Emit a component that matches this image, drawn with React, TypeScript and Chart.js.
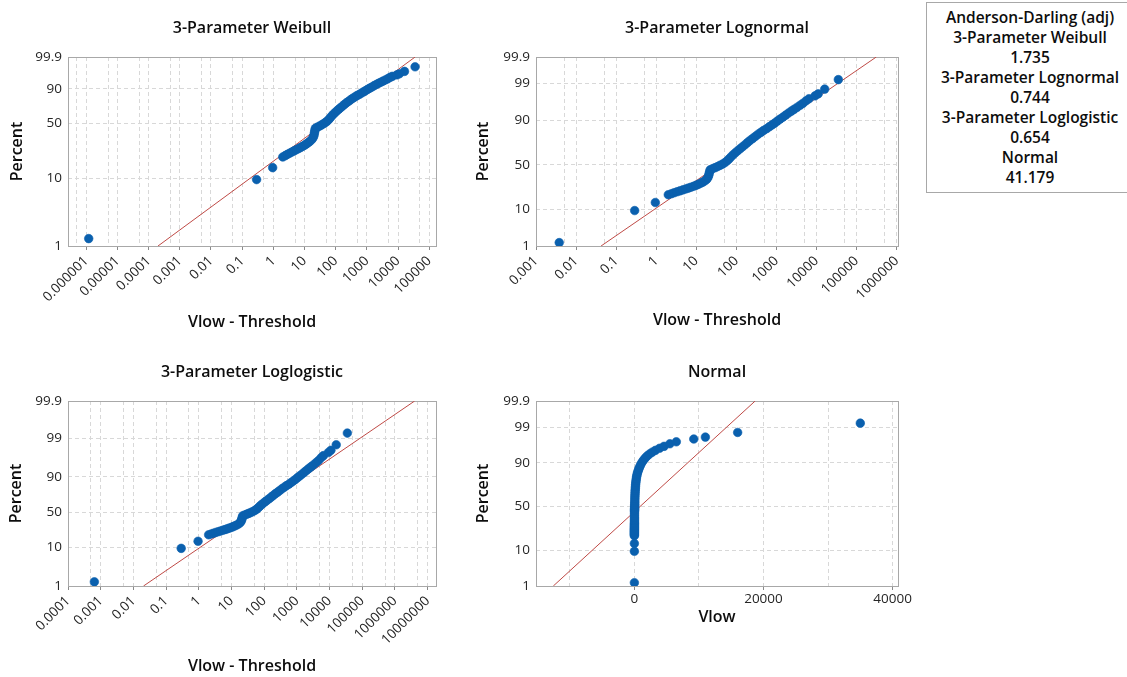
import React, { useEffect, useRef } from 'react';
import { Chart, registerables, Scale } from 'chart.js';

Chart.register(...registerables);
Chart.defaults.font.family = "'Open Sans', 'Noto Sans', sans-serif";

// ---------------- data ----------------
const panelTitles = ['3-Parameter Weibull', '3-Parameter Lognormal', '3-Parameter Loglogistic', 'Normal'];
const xAxisTitles = ['Vlow - Threshold', 'Vlow - Threshold', 'Vlow - Threshold', 'Vlow'];
const yAxisTitle = 'Percent';

const adHeader = 'Anderson-Darling (adj)';
const adDistributions = ['3-Parameter Weibull', '3-Parameter Lognormal', '3-Parameter Loglogistic', 'Normal'];
const adValues = ['1.735', '0.744', '0.654', '41.179'];

// smallest observation (x differs per panel because of each fitted threshold)
const lowestPercent = 1.29;
const lowestWeibull = 1.2e-6;
const lowestLognormal = 0.0038;
const lowestLoglogistic = 0.00064;
const lowestNormal = 0;

// remaining observations (Vlow - threshold) and their plotted percents
const vlowValues = [
  0.29, 0.95, 2.0, 2.4, 2.8, 3.3, 3.9, 4.6, 5.4, 6.3, 7.3, 8.5, 9.8, 11.2, 12.8, 14.5, 16.5, 18.3,
  19.5, 20.3, 20.9, 21.5, 22.2, 25.5, 29.5, 34, 39, 45, 52, 59, 66, 74, 84, 96, 110, 126, 145, 167,
  192, 222, 258, 300, 350, 410, 480, 570, 670, 780, 900, 1050, 1230, 1450, 1700, 2000, 2350, 2750,
  3250, 3900, 4600, 5500, 6500, 9200, 11000, 16000, 35000,
];
const percentValues = [
  9.5, 14.0, 19.6, 20.4, 21.2, 22.0, 22.8, 23.6, 24.4, 25.2, 26.0, 26.9, 27.8, 28.8, 29.9, 31.0, 32.4, 34.0,
  35.8, 37.8, 40.0, 42.2, 44.4, 45.6, 46.8, 48.0, 49.4, 50.8, 52.6, 54.6, 56.8, 59.2, 61.6, 63.8, 66.0, 68.0, 70.0, 72.0,
  74.0, 75.9, 77.6, 79.3, 81.0, 82.4, 83.8, 85.0, 86.3, 87.4, 88.4, 89.5, 90.5, 91.4, 92.3, 93.1, 93.8, 94.4,
  95.0, 95.6, 96.1, 96.7, 97.1, 97.6, 97.9, 98.5, 99.27,
];

// fitted reference lines (x, percent) at the plot edges
const weibullFit = [[2.0e-4, 1], [35000, 99.9]];
const lognormalFit = [[0.042, 1], [310000, 99.9]];
const loglogisticFit = [[0.0204, 1], [4.0e6, 99.9]];
const normalFit = [[-12560, 1], [18710, 99.9]];

// y tick labels
const percentTicks = [1, 10, 50, 90, 99, 99.9];
const weibullPercentTicks = [1, 10, 50, 90, 99.9];

// x tick labels and grid positions
const weibullXLabels = ['0.000001', '0.00001', '0.0001', '0.001', '0.01', '0.1', '1', '10', '100', '1000', '10000', '100000'];
const weibullXGrid = [5e-7, 1e-6, 5e-6, 1e-5, 5e-5, 1e-4, 5e-4, 1e-3, 5e-3, 0.01, 0.05, 0.1, 0.5, 1, 5, 10, 50, 100, 500, 1000, 5000, 10000, 50000, 100000];
const lognormalXLabels = ['0.001', '0.01', '0.1', '1', '10', '100', '1000', '10000', '100000', '1000000'];
const lognormalXGrid = [1e-3, 5e-3, 0.01, 0.05, 0.1, 0.5, 1, 5, 10, 50, 100, 500, 1000, 5000, 10000, 50000, 100000, 500000, 1000000];
const loglogisticXLabels = ['0.0001', '0.001', '0.01', '0.1', '1', '10', '100', '1000', '10000', '100000', '1000000', '10000000'];
const loglogisticXGrid = [1e-4, 5e-4, 1e-3, 5e-3, 0.01, 0.05, 0.1, 0.5, 1, 5, 10, 50, 100, 500, 1000, 5000, 10000, 50000, 100000, 500000, 1000000, 5000000, 10000000];
const normalXLabels = ['0', '20000', '40000'];
const normalXGrid = [-10000, 0, 10000, 20000, 30000, 40000];

// axis ranges
const weibullXRange = [2.6e-7, 1.64e5];
const lognormalXRange = [1e-3, 1.08e6];
const loglogisticXRange = [1e-4, 1.8e7];
const normalXRange = [-15240, 40840];
const percentRange = [1, 99.9];

// ---------------- styles ----------------
const BLUE = '#0a60ae';
const RED = '#bf4a46';
const GRID = '#d8d8d8';
const FRAME = '#a8a8a8';
const TICK_TEXT = '#262626';
const TITLE_TEXT = '#0d0d0d';

// ---------------- probability scale ----------------
function normInv(p: number): number {
  const a = [-3.969683028665376e1, 2.209460984245205e2, -2.759285104469687e2, 1.38357751867269e2, -3.066479806614716e1, 2.506628277459239];
  const b = [-5.447609879822406e1, 1.615858368580409e2, -1.556989798598866e2, 6.680131188771972e1, -1.328068155288572e1];
  const c = [-7.784894002430293e-3, -3.223964580411365e-1, -2.400758277161838, -2.549671348386993, 4.374664141464968, 2.938163982698783];
  const d = [7.784695709041462e-3, 3.224671290700398e-1, 2.445134137142996, 3.754408661907416];
  const pl = 0.02425;
  if (p < pl) {
    const q = Math.sqrt(-2 * Math.log(p));
    return (((((c[0] * q + c[1]) * q + c[2]) * q + c[3]) * q + c[4]) * q + c[5]) / ((((d[0] * q + d[1]) * q + d[2]) * q + d[3]) * q + 1);
  }
  if (p <= 1 - pl) {
    const q = p - 0.5;
    const r = q * q;
    return ((((((a[0] * r + a[1]) * r + a[2]) * r + a[3]) * r + a[4]) * r + a[5]) * q) / (((((b[0] * r + b[1]) * r + b[2]) * r + b[3]) * r + b[4]) * r + 1);
  }
  const q = Math.sqrt(-2 * Math.log(1 - p));
  return -(((((c[0] * q + c[1]) * q + c[2]) * q + c[3]) * q + c[4]) * q + c[5]) / ((((d[0] * q + d[1]) * q + d[2]) * q + d[3]) * q + 1);
}

function probTransform(kind: string, pct: number): number {
  const p = pct / 100;
  if (kind === 'weibull') return Math.log(-Math.log(1 - p));
  if (kind === 'logistic') return Math.log(p / (1 - p));
  return normInv(p);
}

class ProbabilityScale extends (Scale as any) {
  static id = 'probability';
  static defaults = {};
  determineDataLimits() {
    const o: any = (this as any).options;
    (this as any).min = o.min;
    (this as any).max = o.max;
  }
  buildTicks() {
    return [];
  }
  getLabelForValue(v: number) {
    return String(v);
  }
  configure() {
    super.configure();
    const self: any = this;
    self._tMin = probTransform(self.options.kind, self.min);
    self._tMax = probTransform(self.options.kind, self.max);
  }
  getPixelForValue(v: number) {
    const self: any = this;
    const t = probTransform(self.options.kind, v);
    return self.getPixelForDecimal((t - self._tMin) / (self._tMax - self._tMin));
  }
  getValueForPixel(px: number) {
    const self: any = this;
    const dec = self.getDecimalForPixel(px);
    return self.min + dec * (self.max - self.min);
  }
}
Chart.register(ProbabilityScale as any);

const framePlugin = {
  id: 'frame',
  beforeDatasetsDraw(chart: any) {
    const { ctx, chartArea: a } = chart;
    ctx.save();
    ctx.strokeStyle = FRAME;
    ctx.lineWidth = 1;
    ctx.setLineDash([]);
    const l = Math.round(a.left) + 0.5;
    const t = Math.round(a.top) + 0.5;
    const r = Math.round(a.right) + 0.5;
    const b = Math.round(a.bottom) + 0.5;
    ctx.strokeRect(l, t, r - l, b - t);
    ctx.restore();
  },
};

// ---------------- panels ----------------
type PanelCfg = {
  left: number; top: number; width: number; height: number;
  padRight: number; yWidth: number; topHeight: number; xHeight: number;
  titlePadTop: number; yTitlePad: number; xTitlePadBottom: number;
  title: string; xTitle: string; kind: string; yTicks: number[];
  xType: string; xRange: number[]; xGrid: number[]; xLabels: string[]; rotate: boolean;
  lowestX: number; fit: number[][];
};

const panels: PanelCfg[] = [
  {
    left: 0, top: 0, width: 450, height: 340, padRight: 14, yWidth: 68, topHeight: 57, xHeight: 94,
    titlePadTop: 18.5, yTitlePad: 7.5, xTitlePadBottom: 8,
    title: panelTitles[0], xTitle: xAxisTitles[0], kind: 'weibull', yTicks: weibullPercentTicks,
    xType: 'logarithmic', xRange: weibullXRange, xGrid: weibullXGrid, xLabels: weibullXLabels, rotate: true,
    lowestX: lowestWeibull, fit: weibullFit,
  },
  {
    left: 460, top: 0, width: 460, height: 340, padRight: 22, yWidth: 76, topHeight: 57, xHeight: 94,
    titlePadTop: 18.5, yTitlePad: 13.5, xTitlePadBottom: 9.5,
    title: panelTitles[1], xTitle: xAxisTitles[1], kind: 'normal', yTicks: percentTicks,
    xType: 'logarithmic', xRange: lognormalXRange, xGrid: lognormalXGrid, xLabels: lognormalXLabels, rotate: true,
    lowestX: lowestLognormal, fit: lognormalFit,
  },
  {
    left: 0, top: 350, width: 450, height: 327, padRight: 14, yWidth: 68, topHeight: 51, xHeight: 91,
    titlePadTop: 12.5, yTitlePad: 6.5, xTitlePadBottom: 1,
    title: panelTitles[2], xTitle: xAxisTitles[2], kind: 'logistic', yTicks: percentTicks,
    xType: 'logarithmic', xRange: loglogisticXRange, xGrid: loglogisticXGrid, xLabels: loglogisticXLabels, rotate: true,
    lowestX: lowestLoglogistic, fit: loglogisticFit,
  },
  {
    left: 460, top: 350, width: 460, height: 327, padRight: 22, yWidth: 76, topHeight: 51, xHeight: 91,
    titlePadTop: 12.5, yTitlePad: 13.5, xTitlePadBottom: 49.5,
    title: panelTitles[3], xTitle: xAxisTitles[3], kind: 'normal', yTicks: percentTicks,
    xType: 'linear', xRange: normalXRange, xGrid: normalXGrid, xLabels: normalXLabels, rotate: false,
    lowestX: lowestNormal, fit: normalFit,
  },
];

function labelFor(labels: string[], v: number): string {
  for (const s of labels) {
    const n = Number(s);
    if (n === v || (n !== 0 && Math.abs(n - v) / Math.abs(n) < 1e-6)) return s;
  }
  return '';
}

function buildConfig(cfg: PanelCfg): any {
  const points = [{ x: cfg.lowestX, y: lowestPercent }].concat(
    vlowValues.map((v, i) => ({ x: v, y: percentValues[i] }))
  );
  const fitLine = cfg.fit.map((p) => ({ x: p[0], y: p[1] }));
  const titleFont = { size: 16, weight: '600' as any };
  return {
    type: 'scatter',
    data: {
      datasets: [
        {
          label: 'data', data: points, showLine: false, order: 0, xAxisID: 'x', yAxisID: 'y',
          pointRadius: 4.3, pointBorderWidth: 0.6, pointBackgroundColor: BLUE, pointBorderColor: BLUE,
        },
        {
          label: 'fit', data: fitLine, showLine: true, order: 1, fill: false, xAxisID: 'x', yAxisID: 'y',
          pointRadius: 0, borderColor: RED, borderWidth: 1,
        },
      ],
    },
    options: {
      animation: false,
      responsive: false,
      events: [],
      layout: { padding: { left: 0, right: cfg.padRight, top: 0, bottom: 0 } },
      plugins: { legend: { display: false }, tooltip: { enabled: false }, title: { display: false } },
      scales: {
        x: {
          type: cfg.xType, position: 'bottom', min: cfg.xRange[0], max: cfg.xRange[1],
          afterBuildTicks: (s: any) => { s.ticks = cfg.xGrid.map((v) => ({ value: v })); },
          ticks: {
            autoSkip: false, minRotation: cfg.rotate ? 45 : 0, maxRotation: cfg.rotate ? 45 : 0,
            padding: cfg.rotate ? 3 : 1, color: TICK_TEXT, font: { size: 13.5 },
            callback: (v: number) => labelFor(cfg.xLabels, v),
          },
          grid: {
            color: GRID, lineWidth: 1, drawTicks: true, tickLength: 4, tickBorderDash: [],
            tickColor: (ctx: any) => (ctx.tick && labelFor(cfg.xLabels, ctx.tick.value) ? '#8a8a8a' : 'rgba(0,0,0,0)'),
          },
          border: { display: false, dash: [4, 3] },
          title: { display: true, text: cfg.xTitle, color: TITLE_TEXT, font: titleFont, padding: { top: 0, bottom: cfg.xTitlePadBottom } },
          afterFit: (s: any) => { s.height = cfg.xHeight; },
        },
        y: {
          type: 'probability', kind: cfg.kind, position: 'left', min: percentRange[0], max: percentRange[1],
          afterBuildTicks: (s: any) => { s.ticks = cfg.yTicks.map((v) => ({ value: v })); },
          ticks: { autoSkip: false, padding: 6, color: TICK_TEXT, font: { size: 13.5 } },
          grid: { color: GRID, lineWidth: 1, drawTicks: false },
          border: { display: false, dash: [4, 3] },
          title: { display: true, text: yAxisTitle, color: TITLE_TEXT, font: titleFont, padding: { top: cfg.yTitlePad, bottom: 0 } },
          afterFit: (s: any) => { s.width = cfg.yWidth; },
        },
        titleAxis: {
          type: 'linear', position: 'top', display: true,
          ticks: { display: false }, grid: { display: false, drawTicks: false }, border: { display: false },
          title: { display: true, text: cfg.title, color: TITLE_TEXT, font: titleFont, padding: { top: cfg.titlePadTop, bottom: 0 } },
          afterFit: (s: any) => { s.height = cfg.topHeight; },
        },
      },
    },
    plugins: [framePlugin],
  };
}

function Panel({ cfg }: { cfg: PanelCfg }) {
  const ref = useRef<HTMLCanvasElement | null>(null);
  useEffect(() => {
    if (!ref.current) return;
    const chart = new Chart(ref.current, buildConfig(cfg));
    return () => chart.destroy();
  }, [cfg]);
  return (
    <div style={{ position: 'absolute', left: cfg.left, top: cfg.top, width: cfg.width, height: cfg.height }}>
      <canvas ref={ref} width={cfg.width} height={cfg.height} style={{ display: 'block', width: cfg.width, height: cfg.height }} />
    </div>
  );
}

function StatsBox() {
  const lines: string[] = [adHeader];
  adDistributions.forEach((d, i) => { lines.push(d); lines.push(adValues[i]); });
  return (
    <div
      style={{
        position: 'absolute', left: 926, top: 2, width: 208, height: 191, boxSizing: 'border-box',
        border: '1px solid #a8a8a8', paddingTop: 4, textAlign: 'center', fontFamily: "'Open Sans', sans-serif",
        fontWeight: 600, fontSize: 15.5, lineHeight: '20px', color: TITLE_TEXT, background: '#fff',
      }}
    >
      {lines.map((t, i) => (<div key={i} style={{ whiteSpace: 'nowrap' }}>{t}</div>))}
    </div>
  );
}

export default function App() {
  return (
    <div style={{ position: 'fixed', left: 0, top: 0, width: 1127, height: 677, background: '#ffffff', overflow: 'hidden' }}>
      {panels.map((p, i) => (<Panel key={i} cfg={p} />))}
      <StatsBox />
    </div>
  );
}
